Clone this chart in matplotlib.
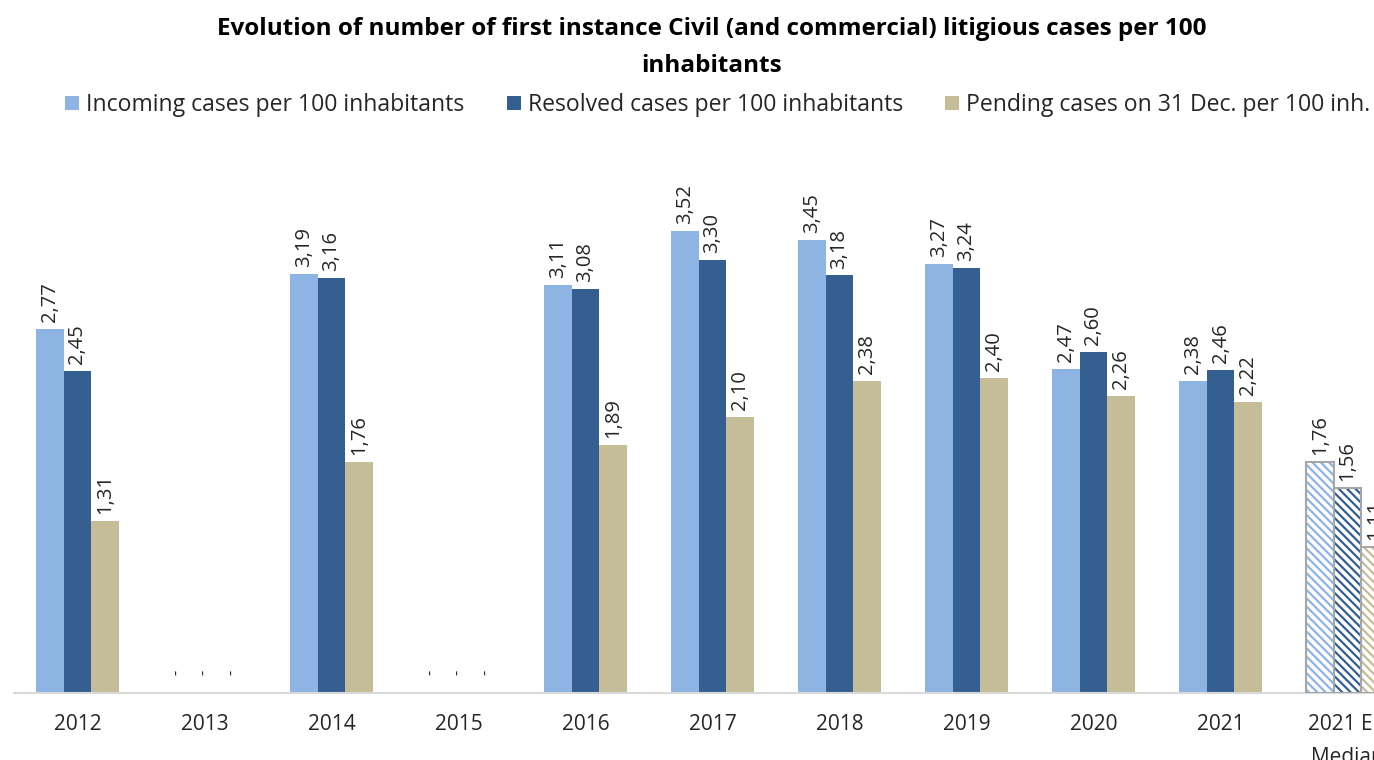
import matplotlib
matplotlib.use("Agg")
import matplotlib.pyplot as plt
from matplotlib.patches import Patch
import numpy as np

categories = ["2012", "2013", "2014", "2015", "2016", "2017", "2018", "2019", "2020", "2021", "2021 EU\nMedian"]
incoming = [2.77, 0, 3.19, 0, 3.11, 3.52, 3.45, 3.27, 2.47, 2.38, 1.76]
resolved = [2.45, 0, 3.16, 0, 3.08, 3.30, 3.18, 3.24, 2.60, 2.46, 1.56]
pending = [1.31, 0, 1.76, 0, 1.89, 2.10, 2.38, 2.40, 2.26, 2.22, 1.11]
series_names = ["Incoming cases per 100 inhabitants",
                "Resolved cases per 100 inhabitants",
                "Pending cases on 31 Dec. per 100 inh."]
colors = ["#8EB4E3", "#355F91", "#C4BD97"]
title = "Evolution of number of first instance Civil (and commercial) litigious cases per 100\ninhabitants"

plt.rcParams['font.family'] = ['Open Sans', 'DejaVu Sans']
plt.rcParams['hatch.linewidth'] = 1.6

W, H = 1374, 760
fig = plt.figure(figsize=(W / 100, H / 100), dpi=100)
ax = fig.add_axes([14 / W, 1 - 693 / H, 1397 / W, 543 / H])

x = np.arange(len(categories))
bw = 0.2165
txt_color = "#262626"
median_idx = len(categories) - 1
for k, (vals, col) in enumerate(zip([incoming, resolved, pending], colors)):
    pos = x + (k - 1) * bw
    for i, v in enumerate(vals):
        if i == median_idx:
            ax.bar(pos[i], v, bw, color="white", edgecolor=col, hatch="\\\\\\\\", linewidth=0, zorder=2)
            ax.bar(pos[i], v, bw, fill=False, edgecolor="#A6A6A6", linewidth=1.5, zorder=3)
        else:
            ax.bar(pos[i], v, bw, color=col, linewidth=0, zorder=2)
        if v == 0:
            ax.annotate("-", (pos[i], v), xytext=(0, 13), textcoords="offset points",
                        rotation=90, ha="center", va="bottom", fontsize=12, color=txt_color)
        else:
            ax.annotate(f"{v:.2f}".replace(".", ","), (pos[i], v), xytext=(0, 5),
                        textcoords="offset points", rotation=90, ha="center", va="bottom",
                        fontsize=14.5, color=txt_color)

ax.set_xlim(-0.5, len(categories) - 0.5)
ax.set_ylim(0, 543 / 131.3)
ax.set_xticks(x)
ax.set_xticklabels(categories, fontsize=15, color=txt_color, linespacing=1.75)
ax.tick_params(axis="x", length=0, pad=15)
ax.set_yticks([])
for s in ["top", "right", "left"]:
    ax.spines[s].set_visible(False)
ax.spines["bottom"].set_color("#D9D9D9")
ax.spines["bottom"].set_linewidth(1.5)

fig.text(712 / W, 1 - 47.5 / H, title, ha="center", va="center", fontsize=17.5,
         fontweight="bold", color="#000000", linespacing=1.75)

handle_x = [65, 507, 945]
for name, col, hx in zip(series_names, colors, handle_x):
    fig.legend([Patch(facecolor=col, edgecolor="none")], [name], loc="center left",
               bbox_to_anchor=(hx / W, 1 - 105 / H), frameon=False, fontsize=16.6,
               handlelength=0.6, handleheight=0.6, handletextpad=0.3,
               borderpad=0, borderaxespad=0, labelcolor=txt_color)

fig.savefig("out.png", dpi=100)
